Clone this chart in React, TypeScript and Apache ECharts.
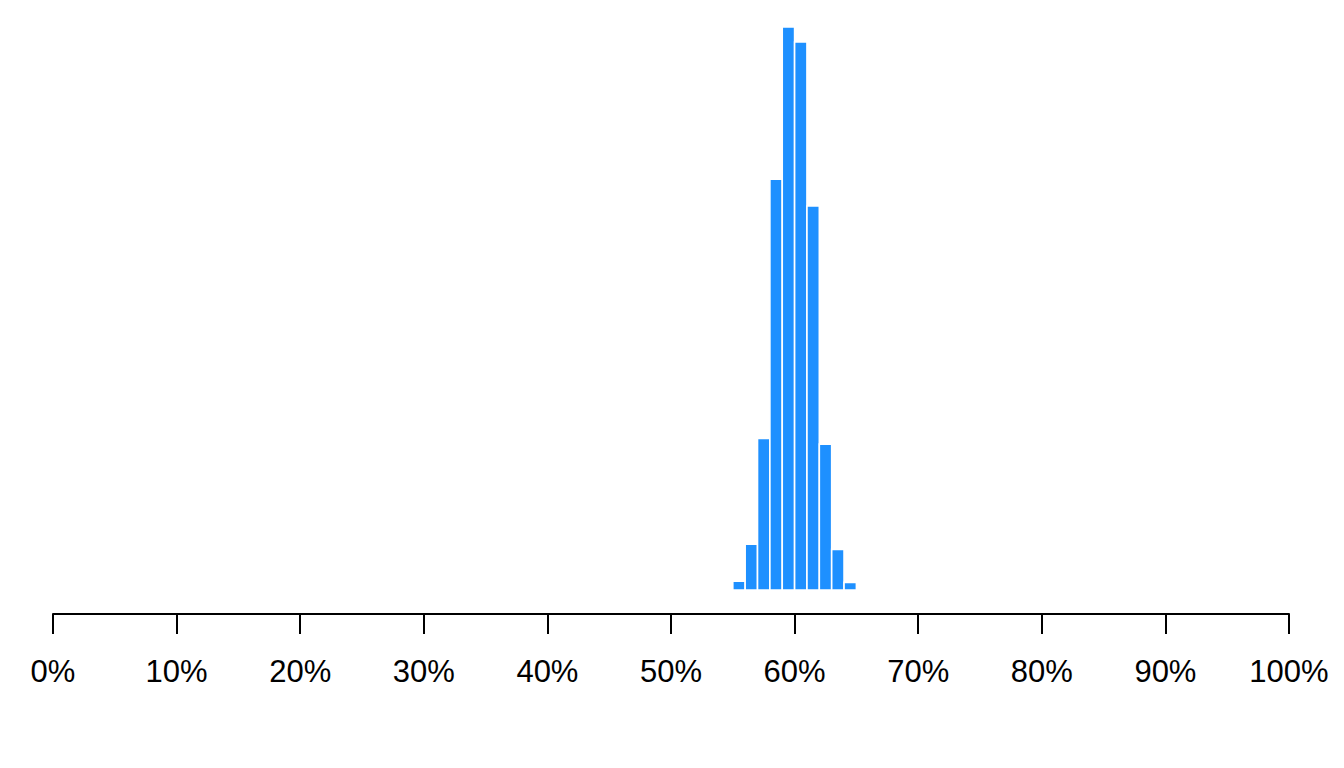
import React, { useEffect, useRef } from 'react';
import * as echarts from 'echarts';

// histogram bins (percent) and their heights (share of draws)
const binStarts = [55, 56, 57, 58, 59, 60, 61, 62, 63, 64];
const binWidth = 1;
const binValues = [0.0038, 0.0198, 0.0657, 0.178, 0.244, 0.2375, 0.1664, 0.0632, 0.0176, 0.0033];
const xTicks = [0, 10, 20, 30, 40, 50, 60, 70, 80, 90, 100];

const App = () => {
  const chartRef = useRef(null);

  useEffect(() => {
    if (!chartRef.current) return;
    const chart = echarts.init(chartRef.current, null, { renderer: 'svg' });

    const maxVal = Math.max(...binValues);
    const binData = binStarts.map((s, i) => [s, s + binWidth, binValues[i]]);

    const option = {
      animation: false,
      grid: { left: 45, right: 47, top: 0, bottom: 146 },
      xAxis: {
        type: 'value',
        min: xTicks[0],
        max: xTicks[xTicks.length - 1],
        interval: 10,
        axisLine: { show: true, onZero: false, lineStyle: { color: '#000', width: 2 } },
        axisTick: { show: true, length: 20, lineStyle: { color: '#000', width: 2 } },
        axisLabel: {
          margin: 42,
          fontSize: 31,
          color: '#000',
          fontFamily: 'Liberation Sans, Arial, sans-serif',
          formatter: (v) => `${v}%`,
        },
        splitLine: { show: false },
      },
      yAxis: {
        type: 'value',
        min: -maxVal * (24 / 563),
        max: maxVal * (1 + 19 / 563),
        show: false,
        splitLine: { show: false },
      },
      series: [
        {
          type: 'custom',
          data: binData,
          encode: { x: [0, 1], y: 2 },
          renderItem: (params, api) => {
            const p0 = api.coord([api.value(0), 0]);
            const p1 = api.coord([api.value(1), api.value(2)]);
            return {
              type: 'rect',
              shape: { x: p0[0], y: p1[1], width: p1[0] - p0[0], height: p0[1] - p1[1] },
              style: { fill: '#1E90FF', stroke: '#fff', lineWidth: 1.6 },
            };
          },
        },
      ],
    };

    chart.setOption(option);
    return () => chart.dispose();
  }, []);

  return <div ref={chartRef} style={{ width: '1328px', height: '752px' }} />;
};

export default App;
